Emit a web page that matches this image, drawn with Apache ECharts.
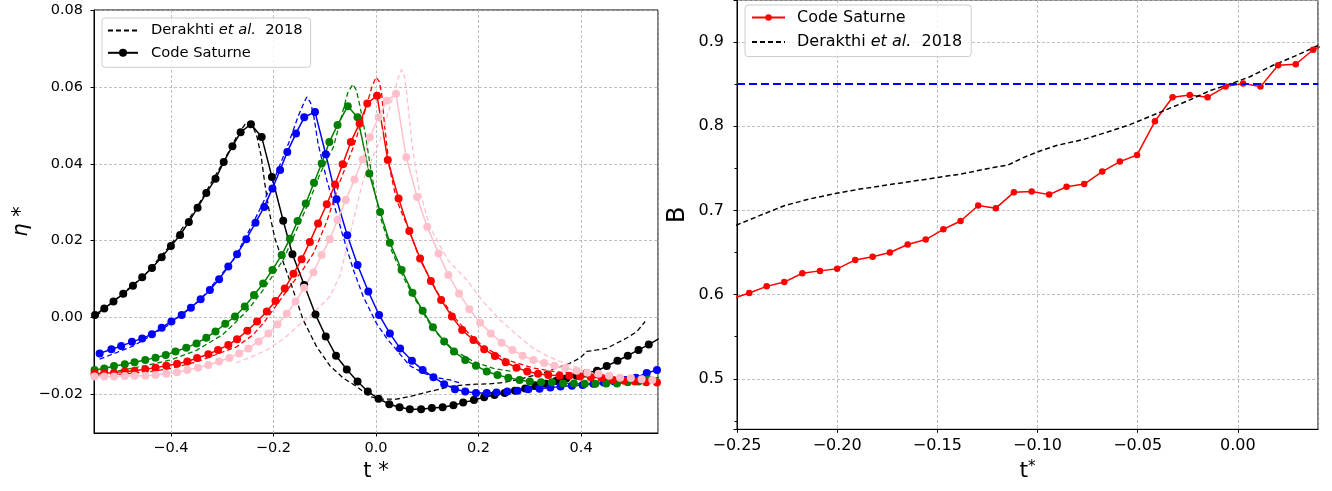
<!DOCTYPE html>
<html><head><meta charset="utf-8">
<script src="https://cdn.jsdelivr.net/npm/echarts@6/dist/echarts.min.js"></script>
<style>html,body{margin:0;padding:0;background:#fff}#c{width:1332px;height:491px}</style>
</head><body><div id="c"></div>
<script>
// ---------------- Left panel: eta* vs t* ----------------
const csBlack = [[-0.548,0.0007],[-0.530,0.0024],[-0.512,0.0042],[-0.493,0.0062],[-0.474,0.0083],[-0.456,0.0105],[-0.437,0.0129],[-0.418,0.0157],[-0.400,0.0186],[-0.382,0.0215],[-0.365,0.0249],[-0.348,0.0286],[-0.331,0.0324],[-0.313,0.0361],[-0.297,0.0405],[-0.280,0.0446],[-0.264,0.0482],[-0.244,0.0503],[-0.223,0.0470],[-0.203,0.0366],[-0.181,0.0252],[-0.163,0.0165],[-0.140,0.0085],[-0.118,0.0008],[-0.098,-0.0049],[-0.078,-0.0099],[-0.057,-0.0135],[-0.036,-0.0166],[-0.016,-0.0192],[0.005,-0.0211],[0.026,-0.0225],[0.046,-0.0233],[0.066,-0.0238],[0.088,-0.0238],[0.109,-0.0235],[0.130,-0.0233],[0.151,-0.0228],[0.170,-0.0221],[0.191,-0.0214],[0.211,-0.0207],[0.231,-0.0201],[0.251,-0.0196],[0.271,-0.0190],[0.291,-0.0184],[0.311,-0.0178],[0.331,-0.0172],[0.351,-0.0165],[0.371,-0.0158],[0.391,-0.0151],[0.411,-0.0144],[0.431,-0.0138],[0.450,-0.0126],[0.471,-0.0112],[0.491,-0.0099],[0.512,-0.0084],[0.532,-0.0070],[0.551,-0.0055]];
const dkBlack = [[-0.545,0.0005],[-0.500,0.0056],[-0.450,0.0112],[-0.400,0.0190],[-0.350,0.0285],[-0.300,0.0400],[-0.270,0.0475],[-0.255,0.0503],[-0.249,0.0507],[-0.240,0.0497],[-0.232,0.0470],[-0.224,0.0420],[-0.217,0.0350],[-0.210,0.0290],[-0.205,0.0254],[-0.197,0.0205],[-0.187,0.0167],[-0.164,0.0081],[-0.142,-0.0006],[-0.116,-0.0075],[-0.090,-0.0125],[-0.064,-0.0157],[-0.038,-0.0179],[-0.012,-0.0205],[0.008,-0.0212],[0.040,-0.0212],[0.066,-0.0205],[0.092,-0.0196],[0.118,-0.0188],[0.144,-0.0179],[0.170,-0.0175],[0.196,-0.0173],[0.222,-0.0172],[0.248,-0.0169],[0.274,-0.0162],[0.300,-0.0153],[0.326,-0.0144],[0.352,-0.0131],[0.379,-0.0118],[0.398,-0.0105],[0.411,-0.0088],[0.431,-0.0084],[0.450,-0.0080],[0.470,-0.0066],[0.489,-0.0053],[0.509,-0.0036],[0.525,-0.0010]];
const csBlue = [[-0.539,-0.0093],[-0.516,-0.0082],[-0.497,-0.0074],[-0.476,-0.0063],[-0.456,-0.0054],[-0.437,-0.0043],[-0.418,-0.0026],[-0.399,-0.0010],[-0.379,0.0007],[-0.361,0.0026],[-0.342,0.0048],[-0.324,0.0072],[-0.306,0.0100],[-0.288,0.0133],[-0.271,0.0165],[-0.253,0.0204],[-0.235,0.0247],[-0.218,0.0288],[-0.202,0.0336],[-0.187,0.0384],[-0.173,0.0431],[-0.156,0.0479],[-0.140,0.0521],[-0.119,0.0535],[-0.098,0.0425],[-0.077,0.0308],[-0.056,0.0214],[-0.036,0.0137],[-0.015,0.0068],[0.006,0.0007],[0.027,-0.0041],[0.047,-0.0080],[0.070,-0.0112],[0.091,-0.0136],[0.112,-0.0155],[0.133,-0.0173],[0.154,-0.0186],[0.174,-0.0192],[0.195,-0.0196],[0.216,-0.0196],[0.235,-0.0195],[0.256,-0.0192],[0.276,-0.0190],[0.297,-0.0186],[0.319,-0.0185],[0.340,-0.0182],[0.360,-0.0179],[0.382,-0.0177],[0.403,-0.0175],[0.424,-0.0172],[0.444,-0.0169],[0.465,-0.0166],[0.486,-0.0162],[0.507,-0.0156],[0.528,-0.0144],[0.548,-0.0136]];
const dkBlue = [[-0.539,-0.0108],[-0.474,-0.0074],[-0.409,-0.0023],[-0.343,0.0046],[-0.278,0.0150],[-0.240,0.0245],[-0.200,0.0355],[-0.170,0.0455],[-0.152,0.0523],[-0.140,0.0560],[-0.135,0.0574],[-0.128,0.0560],[-0.122,0.0530],[-0.113,0.0453],[-0.096,0.0358],[-0.077,0.0271],[-0.064,0.0210],[-0.044,0.0124],[-0.025,0.0055],[0.001,-0.0015],[0.021,-0.0054],[0.040,-0.0084],[0.066,-0.0125],[0.092,-0.0144],[0.118,-0.0156],[0.144,-0.0162],[0.164,-0.0170]];
const csGreen = [[-0.549,-0.0136],[-0.530,-0.0132],[-0.511,-0.0126],[-0.490,-0.0121],[-0.471,-0.0116],[-0.450,-0.0110],[-0.430,-0.0104],[-0.410,-0.0097],[-0.391,-0.0088],[-0.370,-0.0078],[-0.350,-0.0067],[-0.331,-0.0052],[-0.313,-0.0036],[-0.294,-0.0016],[-0.275,0.0003],[-0.256,0.0029],[-0.238,0.0059],[-0.220,0.0089],[-0.202,0.0124],[-0.184,0.0163],[-0.168,0.0205],[-0.153,0.0251],[-0.137,0.0297],[-0.121,0.0351],[-0.106,0.0401],[-0.091,0.0457],[-0.075,0.0501],[-0.055,0.0550],[-0.036,0.0521],[-0.013,0.0375],[0.008,0.0275],[0.027,0.0195],[0.050,0.0124],[0.071,0.0065],[0.091,0.0018],[0.111,-0.0025],[0.133,-0.0062],[0.152,-0.0088],[0.174,-0.0110],[0.195,-0.0125],[0.216,-0.0140],[0.237,-0.0149],[0.258,-0.0156],[0.280,-0.0162],[0.300,-0.0166],[0.322,-0.0168],[0.343,-0.0168],[0.365,-0.0171],[0.386,-0.0171],[0.407,-0.0172],[0.428,-0.0172],[0.449,-0.0171],[0.470,-0.0171],[0.491,-0.0168],[0.512,-0.0166],[0.532,-0.0161],[0.552,-0.0155]];
const dkGreen = [[-0.549,-0.0150],[-0.450,-0.0125],[-0.400,-0.0110],[-0.350,-0.0085],[-0.300,-0.0045],[-0.279,-0.0019],[-0.250,0.0020],[-0.220,0.0072],[-0.181,0.0150],[-0.155,0.0228],[-0.129,0.0306],[-0.109,0.0375],[-0.083,0.0444],[-0.064,0.0540],[-0.055,0.0585],[-0.045,0.0607],[-0.038,0.0590],[-0.031,0.0548],[-0.021,0.0479],[-0.012,0.0401],[-0.002,0.0323],[0.011,0.0250],[0.030,0.0175],[0.053,0.0106],[0.073,0.0055],[0.112,-0.0032],[0.151,-0.0084],[0.190,-0.0114],[0.229,-0.0132],[0.267,-0.0140]];
const csRed = [[-0.549,-0.0146],[-0.530,-0.0144],[-0.511,-0.0143],[-0.490,-0.0140],[-0.471,-0.0138],[-0.450,-0.0134],[-0.430,-0.0130],[-0.409,-0.0125],[-0.388,-0.0120],[-0.368,-0.0114],[-0.349,-0.0105],[-0.327,-0.0095],[-0.308,-0.0084],[-0.288,-0.0071],[-0.271,-0.0056],[-0.251,-0.0034],[-0.232,-0.0010],[-0.213,0.0016],[-0.196,0.0043],[-0.178,0.0076],[-0.161,0.0114],[-0.145,0.0152],[-0.129,0.0197],[-0.113,0.0245],[-0.096,0.0295],[-0.080,0.0346],[-0.065,0.0399],[-0.049,0.0457],[-0.032,0.0505],[-0.017,0.0557],[0.002,0.0577],[0.023,0.0410],[0.044,0.0310],[0.065,0.0225],[0.086,0.0154],[0.107,0.0095],[0.127,0.0046],[0.148,0.0003],[0.168,-0.0032],[0.190,-0.0058],[0.211,-0.0082],[0.232,-0.0100],[0.253,-0.0116],[0.274,-0.0130],[0.295,-0.0140],[0.316,-0.0146],[0.336,-0.0149],[0.358,-0.0151],[0.377,-0.0151],[0.398,-0.0153],[0.419,-0.0155],[0.440,-0.0157],[0.462,-0.0162],[0.484,-0.0164],[0.505,-0.0166],[0.527,-0.0168],[0.548,-0.0169]];
const dkRed = [[-0.549,-0.0152],[-0.450,-0.0142],[-0.400,-0.0132],[-0.350,-0.0115],[-0.300,-0.0090],[-0.272,-0.0076],[-0.240,-0.0045],[-0.220,-0.0015],[-0.190,0.0040],[-0.168,0.0081],[-0.145,0.0120],[-0.122,0.0167],[-0.096,0.0250],[-0.070,0.0355],[-0.044,0.0444],[-0.021,0.0540],[-0.008,0.0600],[0.000,0.0625],[0.006,0.0615],[0.011,0.0583],[0.017,0.0496],[0.026,0.0392],[0.040,0.0306],[0.066,0.0222],[0.086,0.0150],[0.120,0.0065],[0.150,0.0005],[0.180,-0.0040],[0.209,-0.0075],[0.255,-0.0110],[0.307,-0.0131],[0.346,-0.0140],[0.379,-0.0144]];
const csPink = [[-0.549,-0.0153],[-0.530,-0.0153],[-0.511,-0.0153],[-0.490,-0.0152],[-0.471,-0.0151],[-0.450,-0.0151],[-0.430,-0.0149],[-0.409,-0.0146],[-0.388,-0.0142],[-0.368,-0.0136],[-0.347,-0.0130],[-0.327,-0.0123],[-0.306,-0.0114],[-0.286,-0.0105],[-0.267,-0.0093],[-0.249,-0.0080],[-0.229,-0.0062],[-0.210,-0.0041],[-0.192,-0.0017],[-0.174,0.0010],[-0.157,0.0042],[-0.140,0.0078],[-0.122,0.0118],[-0.106,0.0163],[-0.090,0.0204],[-0.075,0.0254],[-0.059,0.0306],[-0.042,0.0359],[-0.026,0.0411],[-0.012,0.0469],[0.005,0.0521],[0.021,0.0564],[0.039,0.0582],[0.059,0.0417],[0.080,0.0314],[0.100,0.0236],[0.122,0.0167],[0.141,0.0111],[0.162,0.0063],[0.182,0.0022],[0.203,-0.0013],[0.224,-0.0041],[0.245,-0.0065],[0.266,-0.0084],[0.286,-0.0099],[0.307,-0.0110],[0.328,-0.0118],[0.348,-0.0125],[0.369,-0.0131],[0.391,-0.0138],[0.412,-0.0143],[0.434,-0.0146],[0.455,-0.0151],[0.476,-0.0156],[0.497,-0.0157],[0.518,-0.0160],[0.539,-0.0162]];
const dkPink = [[-0.273,-0.0118],[-0.240,-0.0100],[-0.213,-0.0084],[-0.180,-0.0055],[-0.155,-0.0025],[-0.120,0.0015],[-0.090,0.0055],[-0.070,0.0110],[-0.044,0.0254],[-0.025,0.0358],[0.008,0.0462],[0.031,0.0565],[0.044,0.0626],[0.050,0.0645],[0.055,0.0630],[0.060,0.0583],[0.070,0.0453],[0.083,0.0340],[0.105,0.0236],[0.140,0.0150],[0.177,0.0098],[0.210,0.0040],[0.242,-0.0006],[0.275,-0.0045],[0.307,-0.0080],[0.335,-0.0100],[0.359,-0.0114],[0.379,-0.0123],[0.404,-0.0136]];

// ---------------- Right panel: B vs t* ----------------
const bCodeSaturne = [[-0.2527,0.595],[-0.2439,0.6019],[-0.2352,0.6098],[-0.2264,0.6149],[-0.2174,0.6254],[-0.2086,0.6282],[-0.2000,0.6306],[-0.1910,0.6412],[-0.1823,0.6451],[-0.1737,0.6501],[-0.1648,0.6595],[-0.1558,0.6654],[-0.1470,0.6776],[-0.1384,0.6874],[-0.1296,0.7059],[-0.1208,0.7027],[-0.1118,0.7215],[-0.1029,0.7224],[-0.0942,0.7188],[-0.0855,0.7282],[-0.0767,0.7313],[-0.0677,0.7462],[-0.0589,0.7580],[-0.0503,0.7659],[-0.0414,0.8059],[-0.0326,0.8345],[-0.0240,0.8372],[-0.0151,0.8345],[-0.0061,0.8471],[0.0026,0.8509],[0.0113,0.8471],[0.0201,0.8725],[0.0289,0.8737],[0.0376,0.8909],[0.0464,0.9000]];
const bDerakhti = [[-0.2505,0.6823],[-0.2385,0.6941],[-0.2261,0.7059],[-0.2136,0.7137],[-0.2003,0.7204],[-0.1886,0.7254],[-0.1720,0.7313],[-0.1553,0.7372],[-0.1387,0.7431],[-0.1221,0.7509],[-0.1146,0.7541],[-0.1071,0.7627],[-0.0988,0.7706],[-0.0905,0.7772],[-0.0772,0.7842],[-0.0655,0.7929],[-0.0539,0.8019],[-0.0439,0.8117],[-0.0339,0.8215],[-0.0240,0.8313],[-0.0140,0.8423],[-0.0040,0.8501],[0.0060,0.8588],[0.0176,0.8725],[0.0293,0.8842],[0.0401,0.8960]];
const bThreshold = 0.85;

const FONT = 'DejaVu Sans';
const colors = {black:'#000000', blue:'#0000ff', green:'#008000', red:'#ff0000', pink:'#ffc0cb'};
const fmt = d => v => { const x = Math.abs(v) < 1e-9 ? 0 : v; return x.toFixed(d).replace('-', '\u2212'); };

const gridLine = {show:true, lineStyle:{color:'#b0b0b0', type:[3,2], width:0.8}};
function axisBase(fs, margin, digits, showMin, showMax) {
  return {
    type:'value',
    axisLine:{show:true, onZero:false, lineStyle:{color:'#000', width:1}},
    axisTick:{show:true, inside:false, length:3.5, lineStyle:{color:'#000', width:1}},
    axisLabel:{show:true, margin:margin, fontSize:fs, color:'#000', fontFamily:FONT, formatter:fmt(digits), showMinLabel:showMin, showMaxLabel:showMax},
    splitLine:gridLine
  };
}

const leftPairs = [
  [colors.black, dkBlack, csBlack, 'L_der', 'L_cs'],
  [colors.blue, dkBlue, csBlue, 'dk_blue', 'cs_blue'],
  [colors.green, dkGreen, csGreen, 'dk_green', 'cs_green'],
  [colors.red, dkRed, csRed, 'dk_red', 'cs_red'],
  [colors.pink, dkPink, csPink, 'dk_pink', 'cs_pink']
];
const series = [];
leftPairs.forEach(([c, dk, cs, nDk, nCs]) => {
  series.push({name:nDk, type:'line', xAxisIndex:0, yAxisIndex:0, data:dk, symbol:'none', clip:true,
    lineStyle:{color:c, width:1.3, type:[5,3]}, itemStyle:{color:c}});
  series.push({name:nCs, type:'line', xAxisIndex:0, yAxisIndex:0, data:cs, symbol:'circle', symbolSize:8, clip:true,
    lineStyle:{color:c, width:1.5}, itemStyle:{color:c}});
});
series.push({name:'R_cs', type:'line', xAxisIndex:1, yAxisIndex:1, data:bCodeSaturne, symbol:'circle', symbolSize:6.5, clip:true,
  lineStyle:{color:colors.red, width:1.5}, itemStyle:{color:colors.red},
  markLine:{silent:true, symbol:['none','none'], label:{show:false}, animation:false,
    lineStyle:{color:colors.blue, width:2, type:[8,4]}, data:[{yAxis:bThreshold}]}});
series.push({name:'R_der', type:'line', xAxisIndex:1, yAxisIndex:1, data:bDerakhti, symbol:'none', clip:true,
  lineStyle:{color:'#000', width:1.5, type:[5,3]}, itemStyle:{color:'#000'}});

const legendNames = {
  L_der:'{n|Derakhti }{i|et al.}{n|  2018}', L_cs:'{n|Code Saturne}',
  R_cs:'{n|Code Saturne}', R_der:'{n|Derakthi }{i|et al.}{n|  2018}'
};
function legendText(fs, lh, pad) {
  return {color:'#000', fontFamily:FONT, fontSize:fs, lineHeight:lh, padding:[0,0,0,pad],
    rich:{n:{fontFamily:FONT, fontSize:fs, lineHeight:lh, color:'#000'},
          i:{fontFamily:FONT, fontSize:fs, lineHeight:lh, color:'#000', fontStyle:'italic'}}};
}
const noMarker = {opacity:0, color:'rgba(0,0,0,0)', borderWidth:0};

const option = {
  animation:false,
  backgroundColor:'#fff',
  grid:[
    {left:94, top:10, width:564, height:423, show:true, borderColor:'#000', borderWidth:1, backgroundColor:'transparent'},
    {left:737, top:-4, width:581, height:433.3, show:true, borderColor:'#000', borderWidth:1, backgroundColor:'transparent'}
  ],
  xAxis:[
    Object.assign(axisBase(14.5, 8, 1, false, false), {gridIndex:0, min:-0.55, max:0.55, splitNumber:5,
      name:'t *', nameLocation:'middle', nameGap:28, nameTextStyle:{fontSize:21, color:'#000', fontFamily:FONT, verticalAlign:'top'}}),
    Object.assign(axisBase(16, 9, 2, true, false), {gridIndex:1, min:-0.25, max:0.04, splitNumber:6,
      name:'t{s|*}', nameLocation:'middle', nameGap:22,
      nameTextStyle:{fontSize:22, color:'#000', fontFamily:FONT, verticalAlign:'top',
        rich:{s:{fontSize:15, fontFamily:FONT, color:'#000', verticalAlign:'top', padding:[0,0,10,0]}}}})
  ],
  yAxis:[
    Object.assign(axisBase(14.5, 11, 2, false, true), {gridIndex:0, min:-0.03, max:0.08, splitNumber:5,
      name:'{i|η} *', nameLocation:'middle', nameGap:62,
      nameTextStyle:{fontSize:21, color:'#000', fontFamily:FONT,
        rich:{i:{fontSize:21, fontFamily:FONT, color:'#000', fontStyle:'italic'}}}}),
    Object.assign(axisBase(16, 13, 1, false, false), {gridIndex:1, min:0.44, max:0.95, splitNumber:5,
      minorTick:{show:true, splitNumber:2, length:2.5, lineStyle:{color:'#000', width:1}},
      name:'B', nameLocation:'middle', nameGap:47,
      nameTextStyle:{fontSize:24, color:'#000', fontFamily:FONT}})
  ],
  legend:[
    {data:[{name:'L_der', itemStyle:noMarker},'L_cs'], orient:'vertical', left:102, top:18, selectedMode:false,
      itemWidth:30, itemHeight:10, itemGap:5.3, padding:[4,8,6,5],
      borderColor:'#cccccc', borderWidth:1, borderRadius:3, backgroundColor:'rgba(255,255,255,0.8)',
      formatter:n => legendNames[n], textStyle:legendText(14.7, 17, 8)},
    {data:['R_cs',{name:'R_der', itemStyle:noMarker}], orient:'vertical', left:745, top:5, selectedMode:false,
      itemWidth:33, itemHeight:8, itemGap:5.6, padding:[3,9,5,6],
      borderColor:'#cccccc', borderWidth:1, borderRadius:3, backgroundColor:'rgba(255,255,255,0.8)',
      formatter:n => legendNames[n], textStyle:legendText(16, 19, 7)}
  ],
  series:series
};
const chart = echarts.init(document.getElementById('c'), null, {renderer:'canvas'});
chart.setOption(option);
</script></body></html>
